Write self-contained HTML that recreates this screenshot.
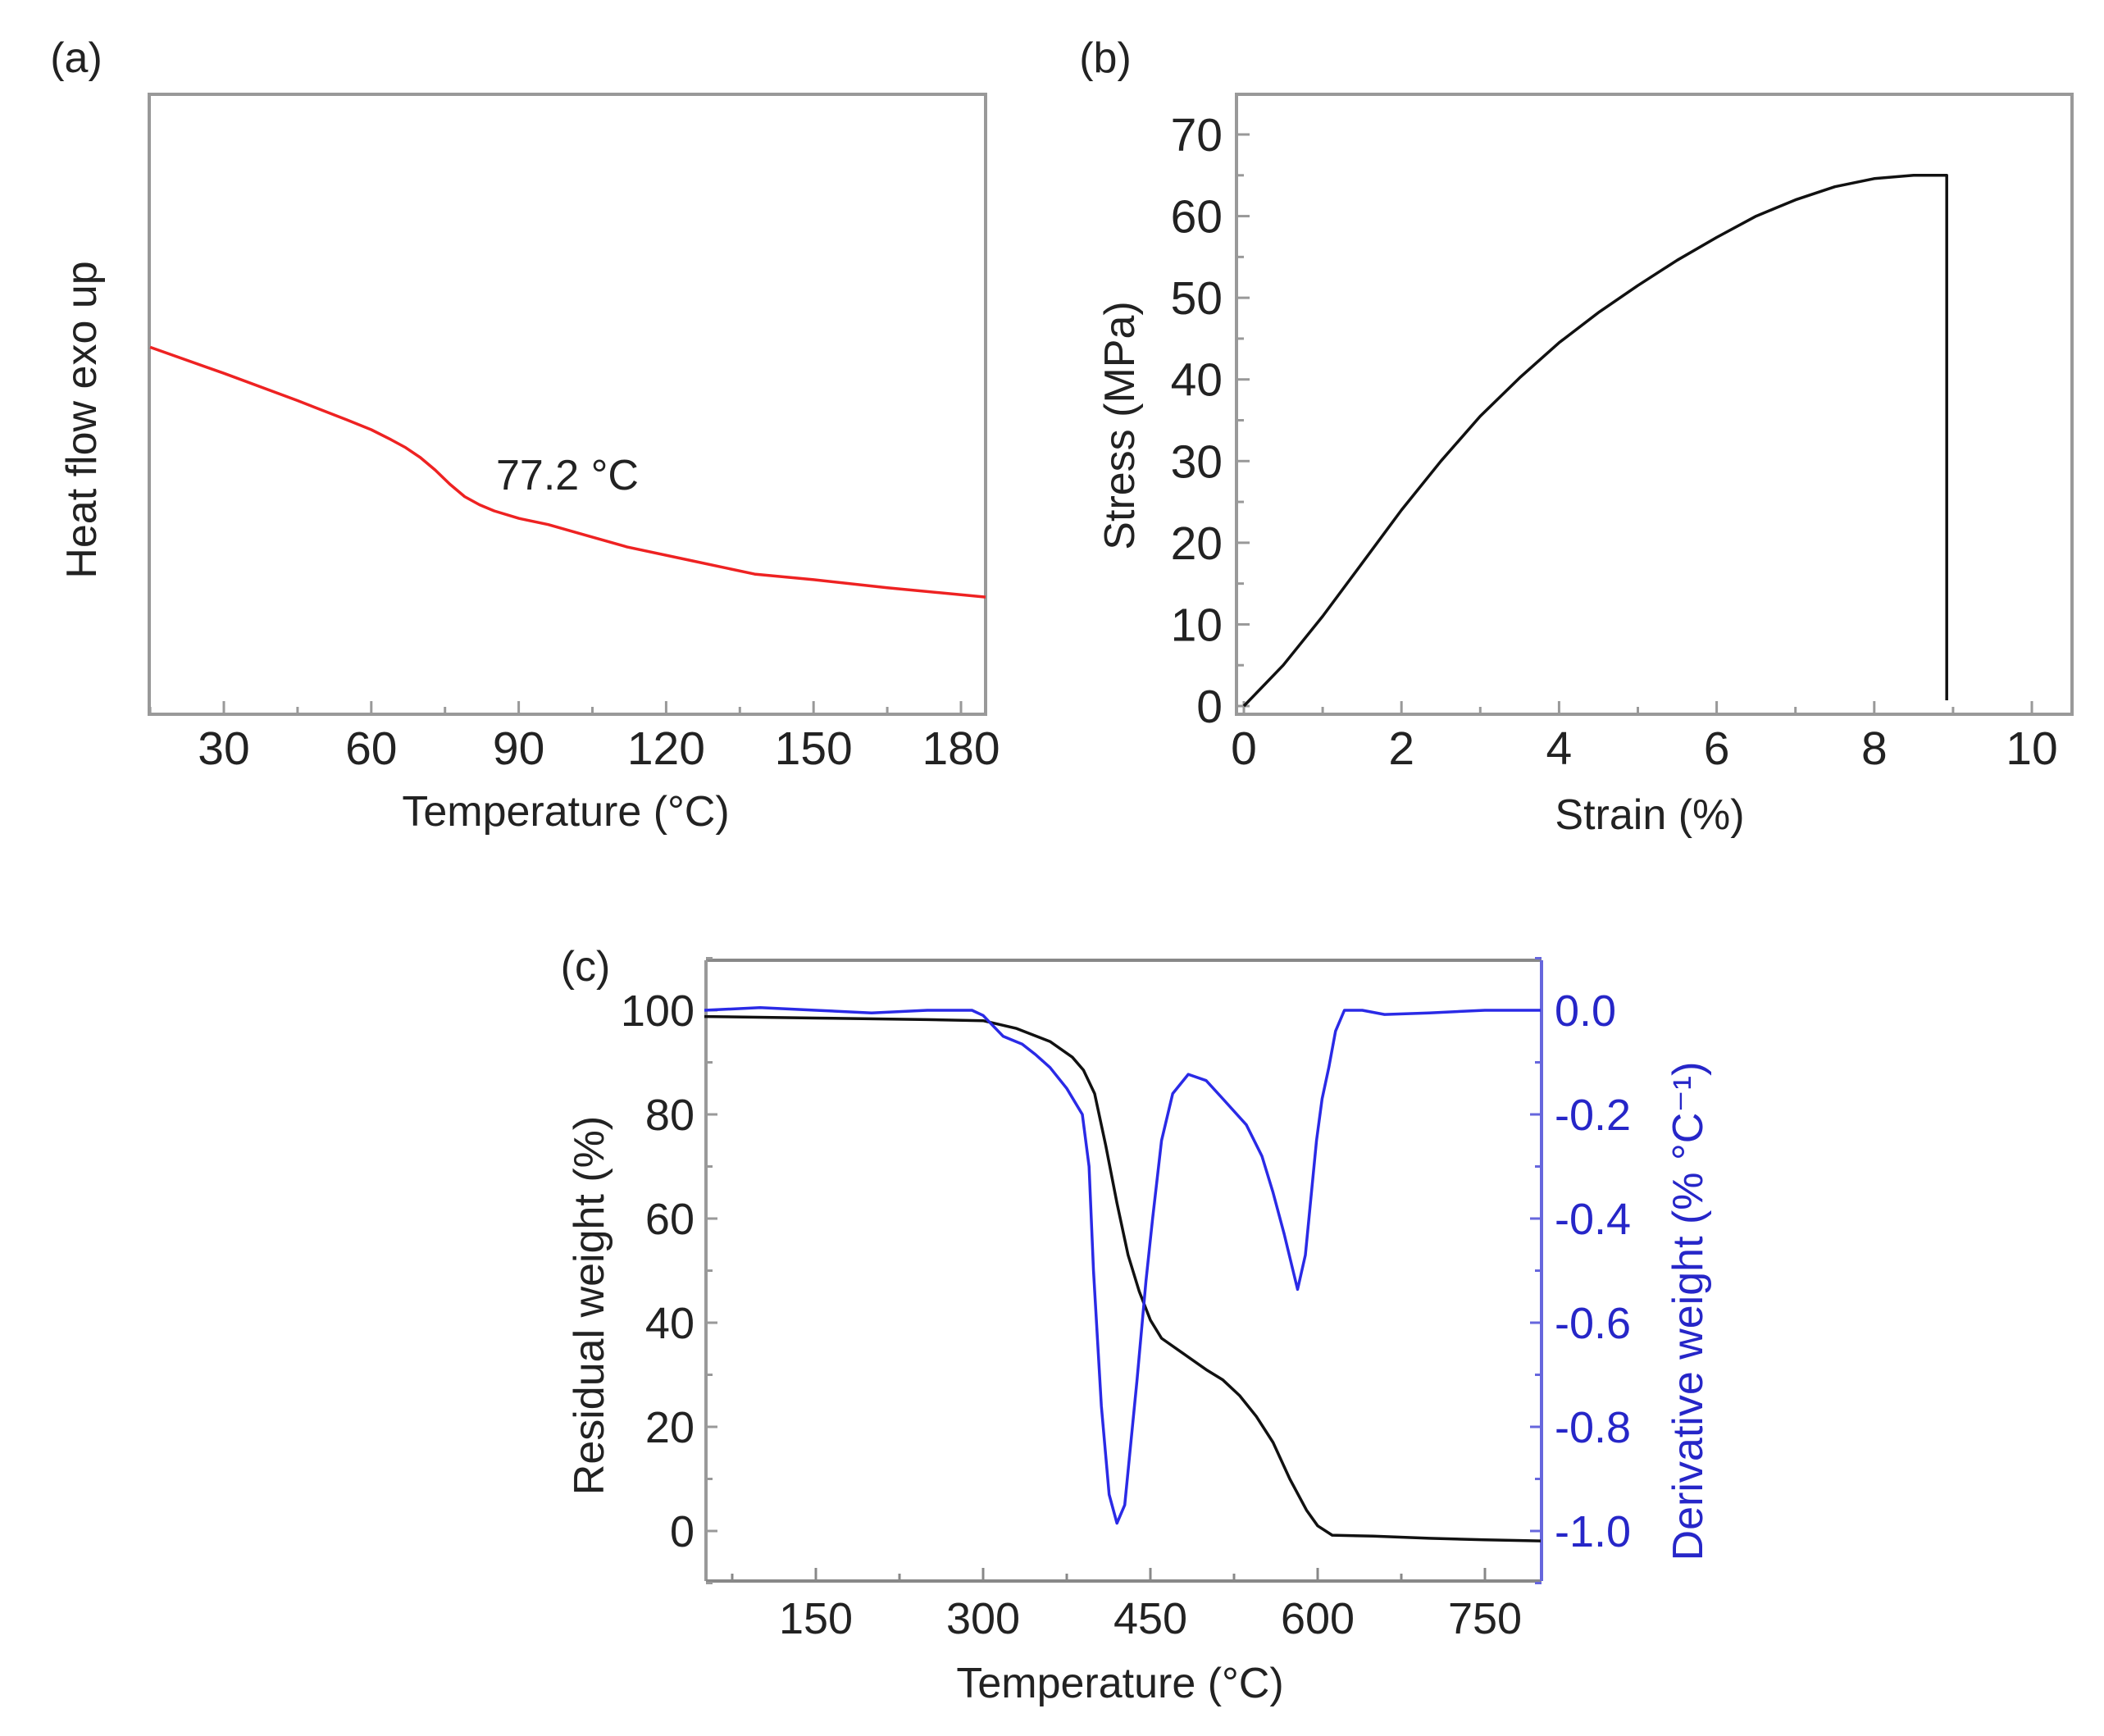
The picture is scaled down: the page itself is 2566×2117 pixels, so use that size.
<!DOCTYPE html>
<html><head><meta charset="utf-8">
<style>
html,body{margin:0;padding:0;background:#fff;}
svg{display:block;}
text{font-family:"Liberation Sans",sans-serif;}
</style></head>
<body>
<svg id="fig" width="2566" height="2117" viewBox="0 0 2566 2117" xmlns="http://www.w3.org/2000/svg">
<rect x="0" y="0" width="2566" height="2117" fill="#fff"/>
<g id="pa"></g>
<g id="pb"></g>
<g id="pc"></g>
</svg>
<script>
// ---- Panel (a) DSC data ----
const dscTemp = [15, 30, 45, 55, 60, 64, 67, 70, 73, 76, 79, 82, 85, 90, 96, 104, 112, 125, 138, 150, 165, 185];
const dscFlow = [59.2, 55.0, 50.6, 47.5, 45.9, 44.3, 43.0, 41.4, 39.4, 37.1, 35.1, 33.8, 32.8, 31.6, 30.6, 28.8, 27.0, 24.8, 22.6, 21.7, 20.4, 18.9];
const dscTicks = [30, 60, 90, 120, 150, 180];
// ---- Panel (b) stress-strain data ----
const strain = [0, 0.25, 0.5, 1, 1.5, 2, 2.5, 3, 3.5, 4, 4.5, 5, 5.5, 6, 6.5, 7, 7.5, 8, 8.5, 8.92, 8.92];
const stress = [0, 2.5, 5, 11, 17.5, 24, 30, 35.5, 40.2, 44.5, 48.2, 51.5, 54.6, 57.4, 60, 62, 63.6, 64.6, 65, 65, 0.7];
const strainTicks = [0, 2, 4, 6, 8, 10];
const stressTicks = [0, 10, 20, 30, 40, 50, 60, 70];
// ---- Panel (c) TGA data ----
const tgaTemp = [50, 150, 250, 300, 330, 360, 380, 390, 400, 410, 420, 430, 440, 450, 460, 480, 500, 515, 530, 545, 560, 575, 590, 600, 613, 650, 700, 750, 800];
const tgaWeight = [98.8, 98.5, 98.2, 98, 96.5, 94, 91, 88.5, 84, 74, 63, 53, 46, 40.5, 37, 34, 31, 29, 26, 22, 17, 10, 4, 1, -0.8, -1, -1.4, -1.7, -1.9];
const dtgTemp = [50, 100, 150, 200, 250, 290, 300, 318, 335, 347, 360, 375, 389, 395, 399, 406, 413, 420, 427, 438, 446, 452, 460, 470, 484, 500, 515, 536, 550, 560, 570, 582, 589, 599, 604, 610, 616, 624, 640, 660, 700, 750, 800];
const dtgValue = [0, 0.005, 0, -0.005, 0, 0, -0.01, -0.05, -0.065, -0.085, -0.11, -0.15, -0.2, -0.3, -0.5, -0.76, -0.93, -0.985, -0.95, -0.71, -0.52, -0.4, -0.25, -0.16, -0.123, -0.135, -0.17, -0.22, -0.28, -0.35, -0.43, -0.536, -0.47, -0.25, -0.17, -0.11, -0.04, 0, 0, -0.008, -0.005, 0, 0];
const tgaTicks = [150, 300, 450, 600, 750];
const weightTicks = [0, 20, 40, 60, 80, 100];
const dtgTicks = [0.0, -0.2, -0.4, -0.6, -0.8, -1.0];

const NS = "http://www.w3.org/2000/svg";
function mk(parent, tag, attrs){ const e=document.createElementNS(NS,tag); for(const k in attrs) e.setAttribute(k,attrs[k]); parent.appendChild(e); return e; }
function txt(parent, x, y, s, size, anchor, fill, rot){
  const e=mk(parent,'text',{x:x,y:y,'font-size':size,'text-anchor':anchor||'middle',fill:fill||'#222'});
  if(rot) e.setAttribute('transform','rotate(-90 '+x+' '+y+')');
  e.textContent=s; return e;
}
function lin(d0,d1,r0,r1){ return v=>r0+(v-d0)*(r1-r0)/(d1-d0); }
function pathFrom(xs,ys,fx,fy){ return xs.map((v,i)=>(i?'L':'M')+fx(v).toFixed(1)+' '+fy(ys[i]).toFixed(1)).join(' '); }

// ===== Panel A =====
(function(){
  const g=document.getElementById('pa');
  const L=182,R=1202,T=115,B=871;
  const fx=lin(30,180,273,1172), fy=lin(0,100,871,115);
  const box=mk(g,'rect',{x:L,y:T,width:R-L,height:B-T,fill:'none',stroke:'#999',"stroke-width":4});
   
  for(let t=15;t<=185;t+=15){
    const x=fx(t); const major=(t%30===0);
    const tk=mk(g,'line',{x1:x,y1:B,x2:x,y2:B-(major?16:9),stroke:'#999',"stroke-width":3});
     
  }
  dscTicks.forEach(t=>{ const e=txt(g,fx(t),932,String(t),57,'middle','#222');
      });
  const p=mk(g,'path',{d:pathFrom(dscTemp,dscFlow,fx,fy),fill:'none',stroke:'#ee2222',"stroke-width":3.5,"stroke-linejoin":"round"});
   
  let e=txt(g,690,1007,'Temperature (°C)',52,'middle','#222');  
  e=txt(g,117,512,'Heat flow exo up',52,'middle','#222',true);  
  e=txt(g,692,597,'77.2 °C',52,'middle','#222');  
  e=txt(g,93,88,'(a)',52,'middle','#222');  
})();

// ===== Panel B =====
(function(){
  const g=document.getElementById('pb');
  const L=1508,R=2527,T=115,B=871;
  const fx=lin(0,10,1517,2478), fy=lin(0,70,861,164);
  const box=mk(g,'rect',{x:L,y:T,width:R-L,height:B-T,fill:'none',stroke:'#999',"stroke-width":4});
   
  for(let s=0;s<=10;s+=1){
    const x=fx(s); const major=(s%2===0);
    const tk=mk(g,'line',{x1:x,y1:B,x2:x,y2:B-(major?16:9),stroke:'#999',"stroke-width":3});
     
  }
  for(let v=0;v<=70;v+=5){
    const y=fy(v); const major=(v%10===0);
    const tk=mk(g,'line',{x1:L,y1:y,x2:L+(major?16:9),y2:y,stroke:'#999',"stroke-width":3});
     
  }
  strainTicks.forEach(t=>{ const e=txt(g,fx(t),932,String(t),57,'middle','#222');
      });
  stressTicks.forEach(t=>{ const e=txt(g,1491,fy(t)+20,String(t),57,'end','#222');
      });
  const p=mk(g,'path',{d:pathFrom(strain,stress,fx,fy),fill:'none',stroke:'#111',"stroke-width":3.5,"stroke-linejoin":"round"});
   
  let e=txt(g,2012,1011,'Strain (%)',52,'middle','#222');  
  e=txt(g,1383,519,'Stress (MPa)',52,'middle','#222',true);  
  e=txt(g,1348,88,'(b)',52,'middle','#222');  
})();

// ===== Panel C =====
(function(){
  const g=document.getElementById('pc');
  const L=861,R=1880,T=1171,B=1928;
  const fx=lin(150,750,995,1811), fy=lin(0,100,1867,1232), fyR=lin(-1,0,1867,1232);
  const top=mk(g,'line',{x1:L,y1:T,x2:R,y2:T,stroke:'#888',"stroke-width":4});  
  const lft=mk(g,'line',{x1:L,y1:T,x2:L,y2:B,stroke:'#999',"stroke-width":4});  
  const bot=mk(g,'line',{x1:L,y1:B,x2:R,y2:B,stroke:'#888',"stroke-width":4});  
  const rgt=mk(g,'line',{x1:R,y1:T,x2:R,y2:B,stroke:'#6666dd',"stroke-width":4});  
  for(let t=75;t<=800;t+=75){
    const x=fx(t); const major=(t%150===0);
    const tk=mk(g,'line',{x1:x,y1:B,x2:x,y2:B-(major?16:9),stroke:'#888',"stroke-width":3});
     
  }
  for(let v=-10;v<=110;v+=10){
    const y=fy(v); const major=(v%20===0);
    const tk=mk(g,'line',{x1:L,y1:y,x2:L+(major?14:8),y2:y,stroke:'#999',"stroke-width":3});
     
    const tk2=mk(g,'line',{x1:R,y1:y,x2:R-(major?14:8),y2:y,stroke:'#6666dd',"stroke-width":3});
     
  }
  tgaTicks.forEach(t=>{ const e=txt(g,fx(t),1992,String(t),54,'middle','#222');
      });
  weightTicks.forEach(t=>{ const e=txt(g,847,fy(t)+19,String(t),54,'end','#222');
      });
  dtgTicks.forEach(t=>{ const e=txt(g,1896,fyR(t)+19,t.toFixed(1),54,'start','#2626c8');
      });
  const p1=mk(g,'path',{d:pathFrom(tgaTemp,tgaWeight,fx,fy),fill:'none',stroke:'#111',"stroke-width":3.5,"stroke-linejoin":"round"});
   
  const p2=mk(g,'path',{d:pathFrom(dtgTemp,dtgValue,fx,fyR),fill:'none',stroke:'#2a2ae6',"stroke-width":3.5,"stroke-linejoin":"round"});
   
  let e=txt(g,1366,2070,'Temperature (°C)',52,'middle','#222');  
  e=txt(g,736,1592,'Residual weight (%)',52,'middle','#222',true);  
  e=txt(g,2076,1599,'Derivative weight (% °C⁻¹)',52,'middle','#2626c8',true);  
  e=txt(g,714,1196,'(c)',52,'middle','#222');  
})();
</script>
</body></html>
